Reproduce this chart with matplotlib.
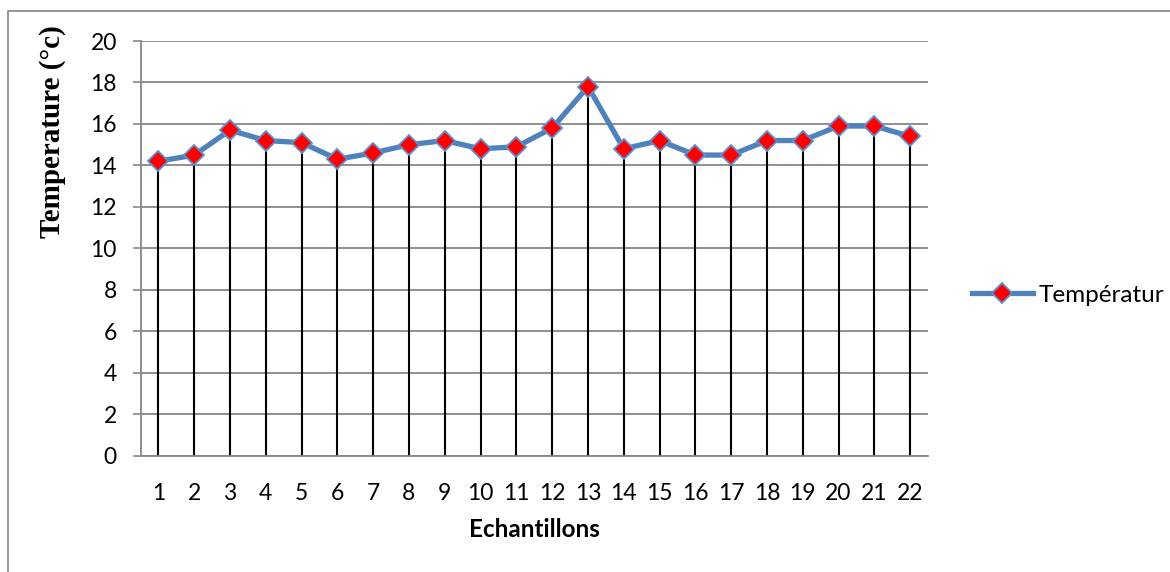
import matplotlib.pyplot as plt
from matplotlib.lines import Line2D

# data
samples = list(range(1, 23))
temperature = [14.2, 14.5, 15.7, 15.2, 15.1, 14.3, 14.6, 15.0, 15.2, 14.8, 14.9,
               15.8, 17.8, 14.8, 15.2, 14.5, 14.5, 15.2, 15.2, 15.9, 15.9, 15.4]
y_ticks = list(range(0, 21, 2))

BLUE = "#4F81BD"
GRID = "#878787"

fig = plt.figure(figsize=(11.7, 5.72), dpi=100)
ax = fig.add_axes([0.1201, 0.2033, 0.6731, 0.7250])

# drop lines from each point to the axis
ax.vlines(samples, 0, temperature, color="black", lw=1.5, zorder=2)

ax.plot(samples, temperature, color=BLUE, lw=3.8, marker="D", markersize=10,
        markerfacecolor="red", markeredgecolor="#5B8FD0", markeredgewidth=1.3,
        zorder=3)

ax.set_xlim(0.5, 22.5)
ax.set_ylim(0, 20)
ax.set_yticks(y_ticks)
ax.set_xticks(samples)
ax.set_xticklabels([str(s) for s in samples])

ax.grid(axis="y", color=GRID, lw=1.3, zorder=0)
ax.set_axisbelow(True)

for side in ["top", "right"]:
    ax.spines[side].set_visible(False)
for side in ["left", "bottom"]:
    ax.spines[side].set_color(GRID)
    ax.spines[side].set_linewidth(1.3)

ax.tick_params(axis="y", length=6, width=1.2, color=GRID, pad=11,
               labelsize=16.5, labelfontfamily="Lato")
ax.tick_params(axis="x", length=0, pad=20, labelsize=16.5, labelfontfamily="Lato")

ax.set_xlabel("Echantillons", fontsize=17.5, fontweight="bold", family="Lato",
              labelpad=10)

fig.text(53 / 1170, 1 - 131.5 / 572, "Temperature (°c)", rotation=90,
         ha="center", va="center", fontsize=21, fontweight="bold",
         family="Liberation Serif")

handle = Line2D([], [], color=BLUE, lw=3.8, marker="D", markersize=10,
                markerfacecolor="red", markeredgecolor="#5B8FD0",
                markeredgewidth=1.3)
fig.legend([handle], ["Températur"], loc="center left",
           bbox_to_anchor=(950 / 1170, 1 - 295 / 572), frameon=False,
           prop={"family": "Lato", "size": 17.5}, handlelength=2.5,
           handletextpad=0.25)

# outer chart border (top and left edges visible)
fig.add_artist(Line2D([8 / 1170, 8 / 1170, 1.0], [0.0, 1 - 11 / 572, 1 - 11 / 572],
                      transform=fig.transFigure, color="#8C8C8C", lw=1.3))

fig.savefig("out.png", dpi=100)
